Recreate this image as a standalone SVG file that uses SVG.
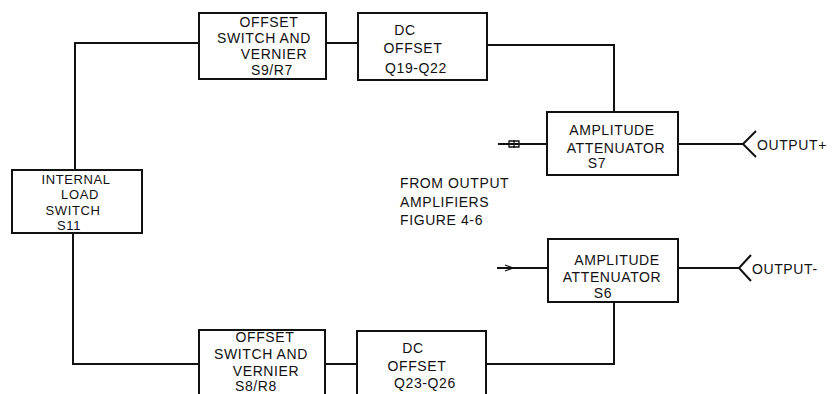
<svg xmlns="http://www.w3.org/2000/svg" width="838" height="394" viewBox="0 0 838 394">
<style>
.box{fill:#fff;stroke:#111;stroke-width:2}
.ln{fill:none;stroke:#111;stroke-width:2}
.thin{fill:none;stroke:#111;stroke-width:1.3}
text{font-family:"Liberation Sans",Arial,sans-serif;font-size:14px;fill:#111;text-anchor:middle;letter-spacing:0.6px}
.l{text-anchor:start}
.s{font-size:13px}
</style>
<rect width="838" height="394" fill="#fff"/>
<g id="connectors">
<path class="ln" d="M199,43 H75 V170"/>
<path class="ln" d="M326,43 H358"/>
<path class="ln" d="M487,45 H614 V112"/>
<path class="ln" d="M73,233 V364 H199"/>
<path class="ln" d="M325,364 H357"/>
<path class="ln" d="M486,364 H614 V302"/>
<path class="ln" d="M498,144 H547"/>
<path class="thin" d="M509,141 h10 v6 h-10 z M514,140 v8 M519,144 l4,0"/>
<path class="ln" d="M497,268 H548"/>
<path class="thin" d="M505,265 l8,3 l-8,3"/>
<path class="ln" d="M678,144 H743"/>
<path class="ln" d="M756,131 L743,144 L756,157"/>
<path class="ln" d="M678,268 H739"/>
<path class="ln" d="M751,255 L739,268 L751,281"/>
</g>
<g id="offset-switch-s9">
<rect class="box" x="199" y="13" width="127" height="66"/>
<text x="269" y="27">OFFSET</text>
<text x="264" y="43">SWITCH AND</text>
<text x="274" y="59">VERNIER</text>
<text x="272" y="75">S9/R7</text>
</g>
<g id="dc-offset-q19">
<rect class="box" x="358" y="13" width="129" height="67"/>
<text x="405" y="35">DC</text>
<text x="413" y="53">OFFSET</text>
<text x="416" y="73">Q19-Q22</text>
</g>
<g id="internal-load">
<rect class="box" x="12" y="170" width="130" height="63"/>
<text class="s" x="76" y="184">INTERNAL</text>
<text class="s" x="80" y="199">LOAD</text>
<text class="s" x="73" y="215">SWITCH</text>
<text class="s" x="69" y="230">S11</text>
</g>
<g id="amp-att-s7">
<rect class="box" x="547" y="112" width="131" height="63"/>
<text x="612" y="135">AMPLITUDE</text>
<text x="616" y="153">ATTENUATOR</text>
<text x="597" y="168">S7</text>
</g>
<g id="amp-att-s6">
<rect class="box" x="548" y="239" width="130" height="63"/>
<text x="617" y="265">AMPLITUDE</text>
<text x="612" y="282">ATTENUATOR</text>
<text x="603" y="298">S6</text>
</g>
<g id="offset-switch-s8">
<rect class="box" x="199" y="330" width="126" height="70"/>
<text x="265" y="342">OFFSET</text>
<text x="261" y="359">SWITCH AND</text>
<text x="266" y="376">VERNIER</text>
<text x="256" y="391">S8/R8</text>
</g>
<g id="dc-offset-q23">
<rect class="box" x="357" y="331" width="129" height="70"/>
<text x="413" y="353">DC</text>
<text x="417" y="371">OFFSET</text>
<text x="425" y="388">Q23-Q26</text>
</g>
<g id="labels">
<text class="l" x="400" y="188">FROM OUTPUT</text>
<text class="l" x="400" y="207">AMPLIFIERS</text>
<text class="l" x="400" y="225">FIGURE 4-6</text>
<text class="l" x="757" y="150">OUTPUT+</text>
<text class="l" x="752" y="274">OUTPUT-</text>
</g>
</svg>
